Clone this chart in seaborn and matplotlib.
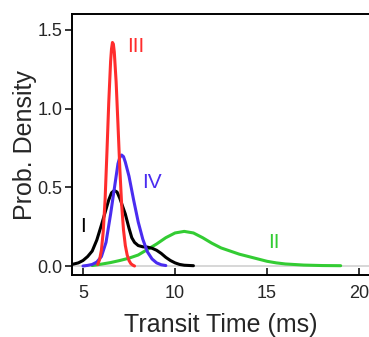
import numpy as np
import pandas as pd
import matplotlib
matplotlib.use("Agg")
import matplotlib.pyplot as plt
import seaborn as sns

# curves (transit time in ms, density)
x_III = [5.8, 5.9, 6.0, 6.1, 6.2, 6.3, 6.4, 6.5, 6.55, 6.6, 6.65, 6.7, 6.8,
         6.9, 7.0, 7.1, 7.2, 7.3, 7.4, 7.5, 7.6, 7.7, 7.8]
y_III = [0.01, 0.04, 0.10, 0.22, 0.42, 0.72, 1.04, 1.30, 1.38, 1.42, 1.41,
         1.36, 1.17, 0.90, 0.62, 0.39, 0.23, 0.13, 0.07, 0.035, 0.015, 0.006,
         0.0]

x_IV = [5.0, 5.25, 5.5, 5.75, 6.0, 6.25, 6.5, 6.75, 6.9, 7.0, 7.1, 7.2, 7.3,
        7.5, 7.75, 8.0, 8.25, 8.5, 8.75, 9.0, 9.25, 9.5]
y_IV = [0.0, 0.004, 0.01, 0.025, 0.06, 0.15, 0.33, 0.53, 0.65, 0.69, 0.705,
        0.695, 0.66, 0.57, 0.42, 0.28, 0.17, 0.09, 0.045, 0.02, 0.008, 0.003]

x_I = [4.4, 4.75, 5.0, 5.25, 5.5, 5.75, 6.0, 6.2, 6.4, 6.55, 6.7, 6.85, 7.0,
       7.15, 7.3, 7.5, 7.65, 7.8, 8.0, 8.25, 8.5, 8.75, 9.0, 9.25, 9.5,
       9.75, 10.0, 10.25, 10.5, 11.0]
y_I = [0.01, 0.02, 0.035, 0.06, 0.095, 0.165, 0.26, 0.34, 0.42, 0.465, 0.48,
       0.47, 0.43, 0.38, 0.33, 0.24, 0.18, 0.15, 0.13, 0.122, 0.12, 0.113,
       0.10, 0.08, 0.055, 0.035, 0.02, 0.01, 0.005, 0.002]

x_II = [5.5, 6.0, 6.5, 7.0, 7.5, 8.0, 8.5, 9.0, 9.5, 10.0, 10.5, 11.0, 11.5,
        12.0, 12.5, 13.0, 13.5, 14.0, 14.5, 15.0, 15.5, 16.0, 17.0, 18.0, 19.0]
y_II = [0.003, 0.012, 0.022, 0.035, 0.05, 0.07, 0.105, 0.14, 0.18, 0.21,
        0.22, 0.21, 0.18, 0.145, 0.115, 0.095, 0.075, 0.06, 0.045, 0.03,
        0.02, 0.013, 0.006, 0.003, 0.002]

x_ticks = [5, 10, 15, 20]
y_ticks = [0.0, 0.5, 1.0, 1.5]

sns.set_style("ticks")
plt.rcParams['font.family'] = ['Liberation Sans', 'DejaVu Sans']

fig = plt.figure(figsize=(3.69, 3.37), dpi=100)
ax = fig.add_axes([0.195, 0.184, 0.808, 0.774])

# szara linia zera
ax.axhline(0, color="#d4d4d4", lw=1.3, zorder=0)

curves = [
    (x_II, y_II, "#33cc33"),
    (x_I, y_I, "black"),
    (x_IV, y_IV, "#4a2cf0"),
    (x_III, y_III, "#ff2d2d"),
]
for xs, ys, col in curves:
    sns.lineplot(x=xs, y=ys, color=col, lw=2.2, ax=ax)

ax.text(7.88, 1.394, "III", color="#ff2d2d", fontsize=15, ha="center", va="center")
ax.text(8.72, 0.53, "IV", color="#4a2cf0", fontsize=15, ha="center", va="center")
ax.text(5.0, 0.25, "I", color="black", fontsize=15, ha="center", va="center")
ax.text(15.35, 0.152, "II", color="#33cc33", fontsize=15, ha="center", va="center")

ax.set_xlim(4.4, 20.6)
ax.set_ylim(-0.057, 1.60)
ax.set_xticks(x_ticks)
ax.set_yticks(y_ticks)
ax.set_yticklabels([f"{v:.1f}" for v in y_ticks])

for s in ["left", "bottom", "top"]:
    ax.spines[s].set_linewidth(1.4)
    ax.spines[s].set_color("black")
ax.spines["right"].set_visible(False)

ax.tick_params(axis="x", direction="in", length=5, width=1.3, pad=7, labelsize=13)
ax.tick_params(axis="y", direction="out", length=5, width=1.3, pad=2, labelsize=13)

ax.set_xlabel("Transit Time (ms)", fontsize=18, labelpad=8)
ax.set_ylabel("Prob. Density", fontsize=18, labelpad=0)

fig.savefig("out.png", dpi=100)
